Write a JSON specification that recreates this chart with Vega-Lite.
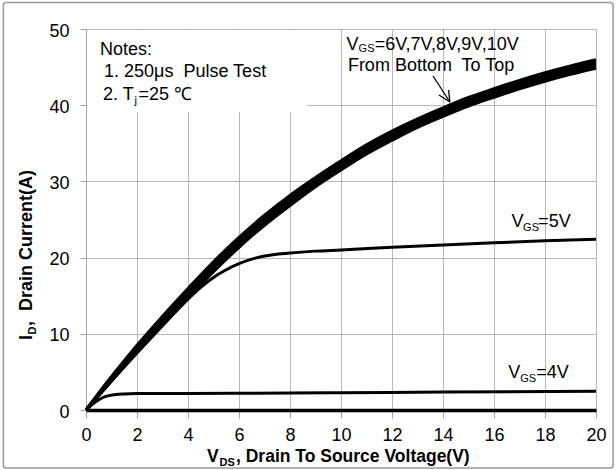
{
  "$schema": "https://vega.github.io/schema/vega-lite/v6.json",
  "width": 510,
  "height": 381,
  "autosize": "none",
  "padding": {"left": 86, "top": 29, "right": 20, "bottom": 60},
  "background": "white",
  "config": {"view": {"stroke": null}, "font": "Liberation Sans"},
  "data": {"values": [{"note": "annotation"}]},
  "datasets": {
    "curves": [
      {"vds": 0, "id": 0, "vgs": "6V"}, {"vds": 0.5, "id": 1.91, "vgs": "6V"}, {"vds": 1, "id": 3.8, "vgs": "6V"}, {"vds": 1.5, "id": 5.67, "vgs": "6V"}, {"vds": 2, "id": 7.5, "vgs": "6V"}, {"vds": 3, "id": 11.1, "vgs": "6V"}, {"vds": 4, "id": 14.66, "vgs": "6V"}, {"vds": 5, "id": 18.14, "vgs": "6V"}, {"vds": 6, "id": 21.34, "vgs": "6V"}, {"vds": 7, "id": 24.24, "vgs": "6V"}, {"vds": 8, "id": 26.84, "vgs": "6V"}, {"vds": 9, "id": 29.3, "vgs": "6V"}, {"vds": 10, "id": 31.5, "vgs": "6V"}, {"vds": 11, "id": 33.6, "vgs": "6V"}, {"vds": 12, "id": 35.4, "vgs": "6V"}, {"vds": 13, "id": 37.09, "vgs": "6V"}, {"vds": 14, "id": 38.54, "vgs": "6V"}, {"vds": 15, "id": 39.89, "vgs": "6V"}, {"vds": 16, "id": 41.04, "vgs": "6V"}, {"vds": 17, "id": 42.14, "vgs": "6V"}, {"vds": 18, "id": 43.14, "vgs": "6V"}, {"vds": 19, "id": 44.04, "vgs": "6V"}, {"vds": 20, "id": 44.84, "vgs": "6V"},
      {"vds": 0, "id": 0, "vgs": "7V"}, {"vds": 0.5, "id": 1.99, "vgs": "7V"}, {"vds": 1, "id": 3.95, "vgs": "7V"}, {"vds": 1.5, "id": 5.87, "vgs": "7V"}, {"vds": 2, "id": 7.75, "vgs": "7V"}, {"vds": 3, "id": 11.4, "vgs": "7V"}, {"vds": 4, "id": 14.98, "vgs": "7V"}, {"vds": 5, "id": 18.47, "vgs": "7V"}, {"vds": 6, "id": 21.67, "vgs": "7V"}, {"vds": 7, "id": 24.57, "vgs": "7V"}, {"vds": 8, "id": 27.17, "vgs": "7V"}, {"vds": 9, "id": 29.6, "vgs": "7V"}, {"vds": 10, "id": 31.8, "vgs": "7V"}, {"vds": 11, "id": 33.9, "vgs": "7V"}, {"vds": 12, "id": 35.7, "vgs": "7V"}, {"vds": 13, "id": 37.37, "vgs": "7V"}, {"vds": 14, "id": 38.82, "vgs": "7V"}, {"vds": 15, "id": 40.17, "vgs": "7V"}, {"vds": 16, "id": 41.32, "vgs": "7V"}, {"vds": 17, "id": 42.42, "vgs": "7V"}, {"vds": 18, "id": 43.42, "vgs": "7V"}, {"vds": 19, "id": 44.32, "vgs": "7V"}, {"vds": 20, "id": 45.12, "vgs": "7V"},
      {"vds": 0, "id": 0, "vgs": "8V"}, {"vds": 0.5, "id": 2.07, "vgs": "8V"}, {"vds": 1, "id": 4.1, "vgs": "8V"}, {"vds": 1.5, "id": 6.07, "vgs": "8V"}, {"vds": 2, "id": 8.0, "vgs": "8V"}, {"vds": 3, "id": 11.7, "vgs": "8V"}, {"vds": 4, "id": 15.3, "vgs": "8V"}, {"vds": 5, "id": 18.8, "vgs": "8V"}, {"vds": 6, "id": 22.0, "vgs": "8V"}, {"vds": 7, "id": 24.9, "vgs": "8V"}, {"vds": 8, "id": 27.5, "vgs": "8V"}, {"vds": 9, "id": 29.9, "vgs": "8V"}, {"vds": 10, "id": 32.1, "vgs": "8V"}, {"vds": 11, "id": 34.2, "vgs": "8V"}, {"vds": 12, "id": 36.0, "vgs": "8V"}, {"vds": 13, "id": 37.65, "vgs": "8V"}, {"vds": 14, "id": 39.1, "vgs": "8V"}, {"vds": 15, "id": 40.45, "vgs": "8V"}, {"vds": 16, "id": 41.6, "vgs": "8V"}, {"vds": 17, "id": 42.7, "vgs": "8V"}, {"vds": 18, "id": 43.7, "vgs": "8V"}, {"vds": 19, "id": 44.6, "vgs": "8V"}, {"vds": 20, "id": 45.4, "vgs": "8V"},
      {"vds": 0, "id": 0, "vgs": "9V"}, {"vds": 0.5, "id": 2.15, "vgs": "9V"}, {"vds": 1, "id": 4.25, "vgs": "9V"}, {"vds": 1.5, "id": 6.27, "vgs": "9V"}, {"vds": 2, "id": 8.25, "vgs": "9V"}, {"vds": 3, "id": 12.0, "vgs": "9V"}, {"vds": 4, "id": 15.62, "vgs": "9V"}, {"vds": 5, "id": 19.13, "vgs": "9V"}, {"vds": 6, "id": 22.33, "vgs": "9V"}, {"vds": 7, "id": 25.23, "vgs": "9V"}, {"vds": 8, "id": 27.83, "vgs": "9V"}, {"vds": 9, "id": 30.2, "vgs": "9V"}, {"vds": 10, "id": 32.4, "vgs": "9V"}, {"vds": 11, "id": 34.5, "vgs": "9V"}, {"vds": 12, "id": 36.3, "vgs": "9V"}, {"vds": 13, "id": 37.93, "vgs": "9V"}, {"vds": 14, "id": 39.38, "vgs": "9V"}, {"vds": 15, "id": 40.73, "vgs": "9V"}, {"vds": 16, "id": 41.88, "vgs": "9V"}, {"vds": 17, "id": 42.98, "vgs": "9V"}, {"vds": 18, "id": 43.98, "vgs": "9V"}, {"vds": 19, "id": 44.88, "vgs": "9V"}, {"vds": 20, "id": 45.68, "vgs": "9V"},
      {"vds": 0, "id": 0, "vgs": "10V"}, {"vds": 0.5, "id": 2.23, "vgs": "10V"}, {"vds": 1, "id": 4.4, "vgs": "10V"}, {"vds": 1.5, "id": 6.47, "vgs": "10V"}, {"vds": 2, "id": 8.5, "vgs": "10V"}, {"vds": 3, "id": 12.3, "vgs": "10V"}, {"vds": 4, "id": 15.94, "vgs": "10V"}, {"vds": 5, "id": 19.46, "vgs": "10V"}, {"vds": 6, "id": 22.66, "vgs": "10V"}, {"vds": 7, "id": 25.56, "vgs": "10V"}, {"vds": 8, "id": 28.16, "vgs": "10V"}, {"vds": 9, "id": 30.5, "vgs": "10V"}, {"vds": 10, "id": 32.7, "vgs": "10V"}, {"vds": 11, "id": 34.8, "vgs": "10V"}, {"vds": 12, "id": 36.6, "vgs": "10V"}, {"vds": 13, "id": 38.21, "vgs": "10V"}, {"vds": 14, "id": 39.66, "vgs": "10V"}, {"vds": 15, "id": 41.01, "vgs": "10V"}, {"vds": 16, "id": 42.16, "vgs": "10V"}, {"vds": 17, "id": 43.26, "vgs": "10V"}, {"vds": 18, "id": 44.26, "vgs": "10V"}, {"vds": 19, "id": 45.16, "vgs": "10V"}, {"vds": 20, "id": 45.96, "vgs": "10V"},
      {"vds": 0, "id": 0, "vgs": "5V"}, {"vds": 0.5, "id": 1.91, "vgs": "5V"}, {"vds": 1, "id": 3.8, "vgs": "5V"}, {"vds": 1.5, "id": 5.67, "vgs": "5V"}, {"vds": 2, "id": 7.5, "vgs": "5V"}, {"vds": 3, "id": 11.1, "vgs": "5V"}, {"vds": 4, "id": 14.55, "vgs": "5V"}, {"vds": 4.5, "id": 16.1, "vgs": "5V"}, {"vds": 5, "id": 17.4, "vgs": "5V"}, {"vds": 5.5, "id": 18.4, "vgs": "5V"}, {"vds": 6, "id": 19.2, "vgs": "5V"}, {"vds": 6.5, "id": 19.8, "vgs": "5V"}, {"vds": 7, "id": 20.2, "vgs": "5V"}, {"vds": 8, "id": 20.6, "vgs": "5V"}, {"vds": 9, "id": 20.85, "vgs": "5V"}, {"vds": 10, "id": 21.0, "vgs": "5V"}, {"vds": 12, "id": 21.35, "vgs": "5V"}, {"vds": 14, "id": 21.65, "vgs": "5V"}, {"vds": 16, "id": 21.95, "vgs": "5V"}, {"vds": 18, "id": 22.2, "vgs": "5V"}, {"vds": 20, "id": 22.4, "vgs": "5V"},
      {"vds": 0, "id": 0, "vgs": "4V"}, {"vds": 0.25, "id": 0.75, "vgs": "4V"}, {"vds": 0.5, "id": 1.35, "vgs": "4V"}, {"vds": 0.75, "id": 1.75, "vgs": "4V"}, {"vds": 1, "id": 1.95, "vgs": "4V"}, {"vds": 1.5, "id": 2.1, "vgs": "4V"}, {"vds": 2, "id": 2.15, "vgs": "4V"}, {"vds": 4, "id": 2.18, "vgs": "4V"}, {"vds": 8, "id": 2.22, "vgs": "4V"}, {"vds": 10, "id": 2.26, "vgs": "4V"}, {"vds": 14, "id": 2.35, "vgs": "4V"}, {"vds": 20, "id": 2.45, "vgs": "4V"}
    ],
    "arrow": [
      {"x1": 13.61, "y1": 43.83, "x2": 14.27, "y2": 40.42},
      {"x1": 14.22, "y1": 42.0, "x2": 14.27, "y2": 40.42},
      {"x1": 13.84, "y1": 41.34, "x2": 14.27, "y2": 40.42}
    ]
  },
  "layer": [
    {
      "mark": {"type": "rect", "fill": "white", "stroke": null},
      "encoding": {
        "x": {"datum": 0.04, "type": "quantitative", "scale": {"domain": [0, 20], "nice": false, "zero": false}},
        "x2": {"datum": 8.67},
        "y": {"datum": 39.1, "type": "quantitative", "scale": {"domain": [0, 50], "nice": false, "zero": false}},
        "y2": {"datum": 49.85}
      }
    },
    {
      "data": {"name": "curves"},
      "mark": {"type": "line", "color": "#000", "strokeWidth": 3, "interpolate": "monotone"},
      "encoding": {
        "x": {
          "field": "vds", "type": "quantitative",
          "scale": {"domain": [0, 20], "nice": false, "zero": false},
          "axis": {
            "title": null, "values": [0, 2, 4, 6, 8, 10, 12, 14, 16, 18, 20],
            "grid": true, "gridColor": "#b8b8b8", "gridWidth": 1,
            "domainColor": "#000", "domainWidth": 3.5,
            "ticks": true, "tickColor": "#a0a0a0", "tickSize": 8, "tickWidth": 1,
            "labelFontSize": 18, "labelColor": "#000", "labelFont": "Liberation Sans", "labelPadding": 8, "labelFlush": false
          }
        },
        "y": {
          "field": "id", "type": "quantitative",
          "scale": {"domain": [0, 50], "nice": false, "zero": false},
          "axis": {
            "title": null, "values": [0, 10, 20, 30, 40, 50],
            "grid": true, "gridColor": "#b8b8b8", "gridWidth": 1,
            "domainColor": "#a8a8a8", "domainWidth": 1,
            "ticks": true, "tickColor": "#a0a0a0", "tickSize": 6, "tickWidth": 1,
            "labelFontSize": 18, "labelColor": "#000", "labelFont": "Liberation Sans", "labelPadding": 11, "labelOffset": 2, "labelFlush": false
          }
        },
        "detail": {"field": "vgs", "type": "nominal"}
      }
    },
    {
      "data": {"name": "arrow"},
      "mark": {"type": "rule", "color": "#000", "strokeWidth": 1.3},
      "encoding": {
        "x": {"field": "x1", "type": "quantitative"},
        "y": {"field": "y1", "type": "quantitative"},
        "x2": {"field": "x2"},
        "y2": {"field": "y2"}
      }
    },
    {
      "mark": {"type": "text", "text": "Notes:", "align": "left", "baseline": "alphabetic", "fontSize": 18, "color": "#000"},
      "encoding": {"x": {"datum": 0.55, "type": "quantitative"}, "y": {"datum": 46.59, "type": "quantitative"}}
    },
    {
      "mark": {"type": "text", "text": "1. 250μs\u00a0 Pulse Test", "align": "left", "baseline": "alphabetic", "fontSize": 18, "color": "#000"},
      "encoding": {"x": {"datum": 0.706, "type": "quantitative"}, "y": {"datum": 43.7, "type": "quantitative"}}
    },
    {
      "mark": {"type": "text", "text": "2. T", "align": "left", "baseline": "alphabetic", "fontSize": 18, "color": "#000"},
      "encoding": {"x": {"datum": 0.667, "type": "quantitative"}, "y": {"datum": 40.68, "type": "quantitative"}}
    },
    {
      "mark": {"type": "text", "text": "j", "align": "left", "baseline": "alphabetic", "fontSize": 11, "color": "#000"},
      "encoding": {"x": {"datum": 1.902, "type": "quantitative"}, "y": {"datum": 40.15, "type": "quantitative"}}
    },
    {
      "mark": {"type": "text", "text": "=25 ℃", "align": "left", "baseline": "alphabetic", "fontSize": 18, "color": "#000"},
      "encoding": {"x": {"datum": 2.059, "type": "quantitative"}, "y": {"datum": 40.68, "type": "quantitative"}}
    },
    {
      "mark": {"type": "text", "text": "V", "align": "left", "baseline": "alphabetic", "fontSize": 18, "color": "#000"},
      "encoding": {"x": {"datum": 10.22, "type": "quantitative"}, "y": {"datum": 47.3, "type": "quantitative"}}
    },
    {
      "mark": {"type": "text", "text": "GS", "align": "left", "baseline": "alphabetic", "fontSize": 11, "color": "#000"},
      "encoding": {"x": {"datum": 10.69, "type": "quantitative"}, "y": {"datum": 47.0, "type": "quantitative"}}
    },
    {
      "mark": {"type": "text", "text": "=6V,7V,8V,9V,10V", "align": "left", "baseline": "alphabetic", "fontSize": 18, "color": "#000"},
      "encoding": {"x": {"datum": 11.32, "type": "quantitative"}, "y": {"datum": 47.3, "type": "quantitative"}}
    },
    {
      "mark": {"type": "text", "text": "From Bottom\u00a0 To Top", "align": "left", "baseline": "alphabetic", "fontSize": 18, "color": "#000"},
      "encoding": {"x": {"datum": 10.27, "type": "quantitative"}, "y": {"datum": 44.55, "type": "quantitative"}}
    },
    {
      "mark": {"type": "text", "text": "V", "align": "left", "baseline": "alphabetic", "fontSize": 18, "color": "#000"},
      "encoding": {"x": {"datum": 16.69, "type": "quantitative"}, "y": {"datum": 24.0, "type": "quantitative"}}
    },
    {
      "mark": {"type": "text", "text": "GS", "align": "left", "baseline": "alphabetic", "fontSize": 11, "color": "#000"},
      "encoding": {"x": {"datum": 17.14, "type": "quantitative"}, "y": {"datum": 23.49, "type": "quantitative"}}
    },
    {
      "mark": {"type": "text", "text": "=5V", "align": "left", "baseline": "alphabetic", "fontSize": 18, "color": "#000"},
      "encoding": {"x": {"datum": 17.73, "type": "quantitative"}, "y": {"datum": 24.0, "type": "quantitative"}}
    },
    {
      "mark": {"type": "text", "text": "V", "align": "left", "baseline": "alphabetic", "fontSize": 18, "color": "#000"},
      "encoding": {"x": {"datum": 16.56, "type": "quantitative"}, "y": {"datum": 4.2, "type": "quantitative"}}
    },
    {
      "mark": {"type": "text", "text": "GS", "align": "left", "baseline": "alphabetic", "fontSize": 11, "color": "#000"},
      "encoding": {"x": {"datum": 17.03, "type": "quantitative"}, "y": {"datum": 3.67, "type": "quantitative"}}
    },
    {
      "mark": {"type": "text", "text": "=4V", "align": "left", "baseline": "alphabetic", "fontSize": 18, "color": "#000"},
      "encoding": {"x": {"datum": 17.66, "type": "quantitative"}, "y": {"datum": 4.2, "type": "quantitative"}}
    },
    {
      "mark": {"type": "text", "text": "V", "align": "left", "baseline": "alphabetic", "fontSize": 17.5, "fontWeight": "bold", "color": "#000", "dx": -134, "dy": 52},
      "encoding": {"x": {"datum": 10, "type": "quantitative"}, "y": {"datum": 0, "type": "quantitative"}}
    },
    {
      "mark": {"type": "text", "text": "DS", "align": "left", "baseline": "alphabetic", "fontSize": 11, "fontWeight": "bold", "color": "#000", "dx": -121.5, "dy": 56},
      "encoding": {"x": {"datum": 10, "type": "quantitative"}, "y": {"datum": 0, "type": "quantitative"}}
    },
    {
      "mark": {"type": "text", "text": ", Drain To Source Voltage(V)", "align": "left", "baseline": "alphabetic", "fontSize": 17.5, "fontWeight": "bold", "color": "#000", "dx": -105, "dy": 52},
      "encoding": {"x": {"datum": 10, "type": "quantitative"}, "y": {"datum": 0, "type": "quantitative"}}
    },
    {
      "mark": {"type": "text", "text": "I", "align": "left", "baseline": "alphabetic", "fontSize": 18, "fontWeight": "bold", "color": "#000", "angle": 270, "dx": 70, "dy": -54},
      "encoding": {"x": {"datum": 0, "type": "quantitative"}, "y": {"datum": 0, "type": "quantitative"}}
    },
    {
      "mark": {"type": "text", "text": "D", "align": "left", "baseline": "alphabetic", "fontSize": 11, "fontWeight": "bold", "color": "#000", "angle": 270, "dx": 75.5, "dy": -50},
      "encoding": {"x": {"datum": 0, "type": "quantitative"}, "y": {"datum": 0, "type": "quantitative"}}
    },
    {
      "mark": {"type": "text", "text": ",\u00a0 Drain Current(A)", "align": "left", "baseline": "alphabetic", "fontSize": 18, "fontWeight": "bold", "color": "#000", "angle": 270, "dx": 84, "dy": -54},
      "encoding": {"x": {"datum": 0, "type": "quantitative"}, "y": {"datum": 0, "type": "quantitative"}}
    },
    {
      "mark": {"type": "rect", "fillOpacity": 0, "stroke": "#9a9a9a", "strokeWidth": 1.5, "cornerRadius": 3},
      "encoding": {
        "x": {"datum": -3.24, "type": "quantitative"},
        "x2": {"datum": 20.67},
        "y": {"datum": -7.61, "type": "quantitative"},
        "y2": {"datum": 53.48}
      }
    }
  ]
}
